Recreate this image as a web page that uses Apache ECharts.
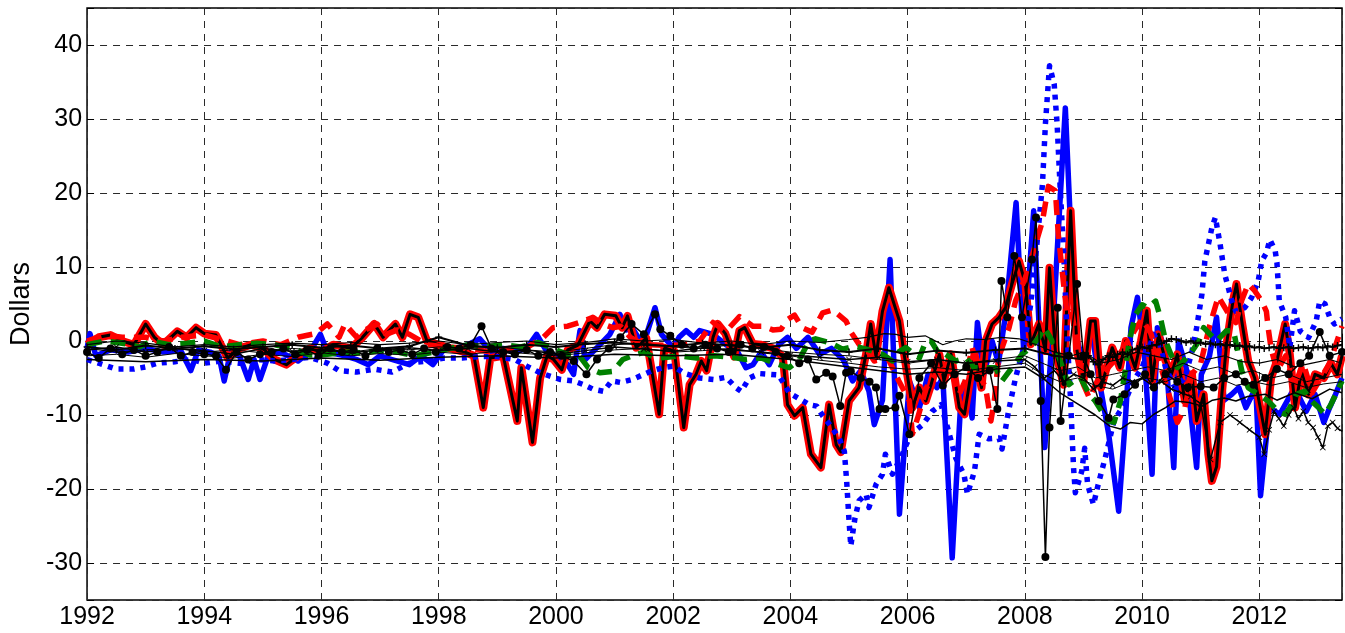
<!DOCTYPE html>
<html>
<head>
<meta charset="utf-8">
<script src="https://cdn.jsdelivr.net/npm/echarts@6/dist/echarts.min.js"></script>
<style>html,body{margin:0;padding:0;background:#fff}#c{width:1345px;height:633px}</style>
</head>
<body>
<div id="c"></div>
<script>
// ---- data: [year, dollars] ----
const xTickYears = [1992,1994,1996,1998,2000,2002,2004,2006,2008,2010,2012];
const yTickValues = [-30,-20,-10,0,10,20,30,40];

const blueSolid = [[1992.0,-1.0],[1992.05,1.0],[1992.15,-2.0],[1992.4,-1.2],[1992.7,-1.5],[1993.0,-1.0],[1993.3,-1.5],[1993.6,-1.3],[1993.77,-4.0],[1993.9,-1.2],[1994.1,-1.5],[1994.25,-2.0],[1994.34,-5.4],[1994.45,-1.5],[1994.6,-2.0],[1994.75,-5.2],[1994.85,-2.5],[1994.95,-5.2],[1995.1,-1.8],[1995.3,-1.5],[1995.6,-2.7],[1995.8,-1.5],[1995.98,0.9],[1996.1,-1.5],[1996.4,-2.0],[1996.6,-2.5],[1996.8,-3.2],[1997.0,-2.0],[1997.2,-2.5],[1997.5,-3.2],[1997.7,-2.0],[1997.9,-3.2],[1998.1,-1.0],[1998.3,-1.0],[1998.5,-0.5],[1998.7,0.3],[1998.9,-1.5],[1999.1,-1.0],[1999.3,-1.5],[1999.5,-1.0],[1999.67,0.9],[1999.85,-1.5],[2000.0,-2.0],[2000.2,-3.2],[2000.3,-4.5],[2000.41,1.4],[2000.5,-2.5],[2000.7,-0.9],[2000.92,0.9],[2001.09,3.6],[2001.2,1.5],[2001.3,1.8],[2001.44,0],[2001.55,1.0],[2001.69,4.5],[2001.8,0.9],[2002.0,-0.9],[2002.1,0.5],[2002.22,1.4],[2002.35,0.5],[2002.45,1.4],[2002.68,0.9],[2002.9,-0.5],[2003.1,-1.5],[2003.24,-3.6],[2003.36,-3.2],[2003.5,-1.5],[2003.64,-3.2],[2003.8,-0.5],[2003.95,0.5],[2004.1,-1.0],[2004.3,0.5],[2004.5,-1.8],[2004.7,-1.0],[2004.9,-2.5],[2005.06,-5.4],[2005.2,-4.0],[2005.34,-6.8],[2005.43,-11.3],[2005.57,-8.0],[2005.7,11.0],[2005.86,-23.4],[2006.03,-5.4],[2006.2,-9.0],[2006.35,-4.5],[2006.5,-6.3],[2006.6,-5.0],[2006.76,-29.3],[2006.9,-9.0],[2007.0,-6.0],[2007.1,-10.4],[2007.19,2.5],[2007.3,-4.5],[2007.44,0],[2007.55,-3.0],[2007.67,3.6],[2007.85,18.7],[2007.98,-1.4],[2008.15,17.6],[2008.34,-14.4],[2008.5,5.0],[2008.69,31.5],[2008.86,1.0],[2009.0,-3.0],[2009.14,1.4],[2009.26,-5.0],[2009.43,-12.6],[2009.6,-23.0],[2009.72,-9.9],[2009.81,1.8],[2009.92,5.9],[2010.03,-0.9],[2010.17,-18.0],[2010.26,1.8],[2010.4,-1.4],[2010.54,-17.1],[2010.62,0],[2010.75,-3.6],[2010.93,-17.1],[2011.01,-4.5],[2011.15,-2.0],[2011.27,3.2],[2011.4,-8.0],[2011.53,-7.2],[2011.65,-6.3],[2011.77,-9.0],[2011.94,-6.3],[2012.02,-20.9],[2012.17,-9.0],[2012.35,-9.9],[2012.6,-6.3],[2012.8,-9.5],[2012.95,-7.2],[2013.1,-11.0],[2013.2,-9.0],[2013.3,-7.2],[2013.41,-5.0]];

const blueDotted = [[1992.0,-2.5],[1992.2,-3.0],[1992.5,-3.8],[1992.8,-3.8],[1993.0,-3.5],[1993.2,-3.0],[1993.5,-2.8],[1993.8,-2.5],[1994.0,-3.0],[1994.3,-2.7],[1994.6,-3.0],[1994.9,-2.5],[1995.2,-2.7],[1995.5,-2.5],[1995.8,-2.2],[1996.1,-3.0],[1996.3,-4.0],[1996.6,-4.2],[1996.9,-3.8],[1997.2,-4.2],[1997.5,-3.0],[1997.8,-2.7],[1998.1,-2.3],[1998.4,-2.3],[1998.7,-2.1],[1999.0,-2.1],[1999.3,-2.5],[1999.5,-3.4],[1999.73,-4.3],[2000.07,-5.2],[2000.3,-5.4],[2000.47,-5.9],[2000.63,-6.5],[2000.81,-6.8],[2000.95,-5.4],[2001.1,-5.6],[2001.3,-5.2],[2001.5,-4.5],[2001.65,-4.0],[2001.83,-3.6],[2002.0,-3.4],[2002.2,-4.4],[2002.45,-5.0],[2002.7,-5.2],[2002.9,-4.9],[2003.07,-6.3],[2003.16,-6.8],[2003.3,-5.0],[2003.47,-4.4],[2003.64,-4.5],[2003.8,-4.6],[2003.98,-7.0],[2004.15,-7.8],[2004.32,-8.6],[2004.45,-8.8],[2004.55,-10.1],[2004.69,-11.5],[2004.83,-13.1],[2004.92,-14.9],[2004.96,-19.0],[2005.0,-24.3],[2005.03,-27.7],[2005.1,-24.0],[2005.17,-21.6],[2005.29,-20.7],[2005.34,-22.5],[2005.46,-19.4],[2005.57,-18.0],[2005.62,-15.3],[2005.74,-18.0],[2005.91,-15.3],[2006.05,-12.6],[2006.26,-11.3],[2006.42,-9.5],[2006.57,-8.6],[2006.68,-11.7],[2006.82,-15.8],[2006.96,-18.0],[2007.02,-20.7],[2007.14,-17.6],[2007.22,-12.6],[2007.38,-13.2],[2007.56,-13.1],[2007.61,-14.6],[2007.72,-9.5],[2007.84,-5.0],[2007.98,-0.9],[2008.1,5.0],[2008.21,13.5],[2008.3,21.2],[2008.35,29.3],[2008.42,37.2],[2008.5,34.7],[2008.55,29.3],[2008.6,21.0],[2008.66,12.2],[2008.72,0.9],[2008.78,-8.1],[2008.83,-17.1],[2008.86,-20.5],[2008.97,-17.6],[2009.02,-14.5],[2009.07,-19.4],[2009.17,-22.1],[2009.25,-19.4],[2009.37,-15.8],[2009.52,-10.8],[2009.69,-8.6],[2009.85,-5.4],[2010.0,-3.6],[2010.2,0.9],[2010.3,-0.5],[2010.4,-3.6],[2010.56,-6.3],[2010.73,-5.0],[2010.85,-1.4],[2010.93,1.8],[2011.02,6.3],[2011.07,10.8],[2011.19,15.3],[2011.25,16.7],[2011.33,13.1],[2011.41,9.0],[2011.53,5.4],[2011.6,4.0],[2011.75,4.5],[2011.87,5.9],[2011.98,8.1],[2012.04,10.8],[2012.12,11.9],[2012.18,13.7],[2012.27,12.2],[2012.3,10.6],[2012.34,5.4],[2012.45,3.2],[2012.52,-0.9],[2012.6,4.1],[2012.7,1.3],[2012.84,0.45],[2012.97,2.7],[2013.03,5.4],[2013.12,5.0],[2013.2,3.2],[2013.28,2.3],[2013.41,3.0]];

const redDashed = [[1992.0,0],[1992.3,0.8],[1992.6,0.5],[1993.0,0.5],[1993.3,0],[1993.6,0.5],[1994.0,0.8],[1994.3,0.2],[1994.6,-0.5],[1995.0,0],[1995.3,-0.5],[1995.6,0.5],[1995.9,1.0],[1996.1,2.3],[1996.3,0.5],[1996.4,2.3],[1996.6,0.5],[1996.75,1.5],[1996.95,2.3],[1997.1,0.9],[1997.3,1.5],[1997.5,0.9],[1997.8,-0.5],[1998.1,-0.8],[1998.5,-1.0],[1998.9,-1.5],[1999.2,-1.0],[1999.5,-0.9],[1999.78,0.45],[1999.95,1.8],[2000.2,2.0],[2000.4,2.5],[2000.63,3.2],[2000.8,2.3],[2000.97,1.8],[2001.1,2.0],[2001.27,0.5],[2001.5,-0.5],[2001.9,-0.6],[2002.2,-0.5],[2002.45,0],[2002.68,2.5],[2002.9,1.3],[2003.13,3.3],[2003.36,2.0],[2003.53,2.0],[2003.7,1.5],[2003.84,1.6],[2003.95,2.9],[2004.07,3.5],[2004.2,1.8],[2004.37,1.2],[2004.55,3.8],[2004.72,4.2],[2004.95,2.7],[2005.04,1.1],[2005.17,-0.45],[2005.32,-1.4],[2005.43,-2.7],[2005.66,-2.3],[2005.85,-5.4],[2006.03,-8.1],[2006.08,-12.6],[2006.17,-10.4],[2006.32,-6.3],[2006.48,-4.5],[2006.65,-3.6],[2006.76,-4.5],[2006.88,-7.2],[2006.98,-5.4],[2007.1,-0.9],[2007.22,-4.5],[2007.33,-6.3],[2007.42,-10.8],[2007.48,-8.0],[2007.55,-2.3],[2007.73,1.8],[2007.84,5.4],[2008.01,8.6],[2008.15,12.2],[2008.3,16.2],[2008.4,20.9],[2008.52,20.3],[2008.57,14.4],[2008.66,7.7],[2008.72,3.6],[2008.8,4.0],[2008.9,-1.4],[2009.0,-5.9],[2009.1,-7.7],[2009.26,-5.0],[2009.42,-3.6],[2009.6,-2.0],[2009.72,-0.5],[2009.88,1.5],[2010.0,3.0],[2010.15,1.0],[2010.3,-3.0],[2010.45,-7.0],[2010.6,-11.0],[2010.73,-9.0],[2010.85,-4.5],[2011.0,-3.0],[2011.15,2.0],[2011.3,6.0],[2011.45,4.0],[2011.6,2.5],[2011.7,5.5],[2011.81,7.7],[2011.92,6.8],[2012.04,5.4],[2012.12,4.0],[2012.15,1.8],[2012.2,-1.0],[2012.3,-4.0],[2012.45,-2.0],[2012.6,-6.0],[2012.75,-3.0],[2012.9,-7.0],[2013.05,-5.0],[2013.2,-3.0],[2013.41,2.0]];

const greenDashed = [[1992.0,-0.5],[1992.3,0],[1992.6,-0.3],[1992.9,-0.8],[1993.1,0],[1993.4,-0.5],[1993.7,-0.3],[1994.0,0],[1994.3,-0.8],[1994.6,-0.5],[1994.9,-0.3],[1995.2,-0.5],[1995.5,-1.0],[1995.8,-1.9],[1996.1,-1.8],[1996.4,-1.5],[1996.7,-1.6],[1997.0,-1.3],[1997.3,-1.5],[1997.6,-2.0],[1997.9,-1.5],[1998.2,-1.0],[1998.5,-0.5],[1998.8,-0.8],[1999.1,-0.5],[1999.4,-0.8],[1999.7,-0.2],[2000.0,-1.2],[2000.2,-1.8],[2000.4,-2.0],[2000.55,-3.6],[2000.75,-4.3],[2000.97,-4.1],[2001.14,-2.5],[2001.3,-2.0],[2001.5,-1.5],[2001.7,-2.3],[2001.9,-2.2],[2002.1,-2.0],[2002.4,-2.3],[2002.7,-2.0],[2003.0,-2.2],[2003.24,-2.5],[2003.5,-2.3],[2003.81,-3.2],[2003.98,-3.6],[2004.15,-2.5],[2004.32,0],[2004.43,0.3],[2004.66,-0.2],[2004.89,-1.1],[2005.1,-0.7],[2005.34,-1.2],[2005.57,-1.8],[2005.74,-2.7],[2005.86,-1.4],[2005.97,-0.9],[2006.2,-2.3],[2006.31,0],[2006.4,0],[2006.54,-1.8],[2006.65,-1.8],[2006.82,-2.7],[2007.0,-2.3],[2007.13,-3.6],[2007.33,-3.6],[2007.5,-3.6],[2007.61,-5.4],[2007.78,-3.6],[2007.95,-1.8],[2008.1,-0.9],[2008.24,0.5],[2008.33,1.8],[2008.43,0.5],[2008.55,-1.4],[2008.66,-4.1],[2008.75,-5.9],[2008.83,-5.4],[2008.95,-5.0],[2009.1,-7.2],[2009.2,-8.1],[2009.31,-9.5],[2009.43,-10.8],[2009.52,-11.0],[2009.63,-8.1],[2009.72,-3.6],[2009.78,0],[2009.89,3.6],[2010.0,4.9],[2010.09,4.5],[2010.23,5.4],[2010.31,3.2],[2010.4,0],[2010.49,-1.8],[2010.6,-3.6],[2010.73,-2.5],[2010.85,-1.4],[2010.97,0],[2011.05,1.8],[2011.16,0.9],[2011.27,0],[2011.44,1.4],[2011.56,1.4],[2011.64,-1.8],[2011.7,-4.0],[2011.81,-6.3],[2011.98,-7.2],[2012.15,-8.1],[2012.32,-9.5],[2012.44,-9.9],[2012.52,-9.0],[2012.63,-7.2],[2012.77,-6.8],[2012.89,-8.1],[2013.01,-9.0],[2013.12,-9.9],[2013.22,-8.6],[2013.33,-6.8],[2013.41,-5.4]];

const redBlack = [[1992.0,-0.5],[1992.2,0.5],[1992.4,0.8],[1992.6,0],[1992.8,-0.5],[1993.0,2.3],[1993.15,0.5],[1993.3,-0.5],[1993.54,1.3],[1993.7,0.5],[1993.86,1.8],[1994.0,1.0],[1994.2,0.8],[1994.4,-2.3],[1994.6,-1.0],[1994.8,-0.5],[1995.0,-1.0],[1995.2,-2.5],[1995.4,-3.2],[1995.6,-2.0],[1995.8,-1.0],[1996.0,-1.5],[1996.2,-0.5],[1996.5,-1.0],[1996.7,0.5],[1996.9,2.3],[1997.05,0.5],[1997.26,2.3],[1997.38,0.5],[1997.51,3.6],[1997.65,3.2],[1997.8,0],[1998.0,-0.5],[1998.2,-1.0],[1998.45,-1.5],[1998.6,-2.0],[1998.76,-9.0],[1998.88,-2.3],[1999.1,-2.0],[1999.34,-10.8],[1999.41,-3.6],[1999.6,-13.7],[1999.73,-5.0],[1999.85,-2.0],[1999.96,-2.5],[2000.1,-3.9],[2000.2,-1.2],[2000.37,-0.6],[2000.58,2.7],[2000.7,1.8],[2000.83,3.6],[2001.02,3.4],[2001.13,1.8],[2001.22,3.4],[2001.37,-0.9],[2001.54,0.4],[2001.76,-9.9],[2001.85,-0.9],[2002.02,-1.4],[2002.18,-11.7],[2002.28,-5.9],[2002.39,-4.5],[2002.48,-2.7],[2002.57,-4.0],[2002.68,0.5],[2002.76,2.3],[2002.89,1.0],[2003.04,-2.1],[2003.13,1.4],[2003.22,1.8],[2003.36,-0.4],[2003.5,-0.5],[2003.7,-1.0],[2003.87,-2.1],[2003.95,-8.6],[2004.07,-10.1],[2004.21,-9.0],[2004.35,-15.3],[2004.52,-17.1],[2004.66,-8.6],[2004.78,-14.0],[2004.86,-15.0],[2005.0,-8.1],[2005.17,-6.3],[2005.29,-1.8],[2005.37,2.3],[2005.46,-2.1],[2005.57,4.0],[2005.68,7.2],[2005.86,2.7],[2005.94,-1.8],[2006.08,-9.0],[2006.2,-6.3],[2006.31,-8.1],[2006.4,-5.9],[2006.54,-1.8],[2006.62,-5.4],[2006.74,-1.8],[2006.88,-9.0],[2006.97,-9.9],[2007.06,-5.4],[2007.14,-1.8],[2007.26,-6.3],[2007.33,0],[2007.44,2.3],[2007.56,3.2],[2007.67,4.5],[2007.78,7.7],[2007.9,10.8],[2008.01,7.7],[2008.1,-0.45],[2008.24,2.3],[2008.35,-1.35],[2008.42,9.9],[2008.52,-1.35],[2008.66,-5.9],[2008.78,17.6],[2008.89,-1.35],[2009.0,-5.4],[2009.12,2.7],[2009.2,2.7],[2009.3,-6.3],[2009.49,-0.9],[2009.62,-3.6],[2009.72,0],[2009.88,-3.6],[2009.98,0],[2010.08,4.1],[2010.17,-5.4],[2010.28,0.9],[2010.4,-2.7],[2010.5,-4.5],[2010.6,-1.8],[2010.73,-8.1],[2010.85,-4.5],[2010.93,-10.8],[2011.05,-7.2],[2011.13,-15.3],[2011.19,-18.9],[2011.27,-17.0],[2011.36,-7.2],[2011.44,-0.45],[2011.55,5.4],[2011.61,7.7],[2011.7,2.7],[2011.81,-2.7],[2011.92,-5.0],[2012.1,-12.6],[2012.2,-5.0],[2012.3,-2.7],[2012.44,2.3],[2012.52,-1.8],[2012.61,-9.0],[2012.72,-4.0],[2012.84,-7.2],[2012.95,-4.5],[2013.1,-5.0],[2013.22,-3.0],[2013.33,-4.5],[2013.41,-2.0]];

const blackDots = [[1992.0,-1.5],[1992.2,-2.3],[1992.4,-1.0],[1992.6,-1.8],[1992.8,-1.2],[1993.0,-2.0],[1993.2,-1.5],[1993.4,-0.8],[1993.6,-2.0],[1993.8,-1.5],[1994.0,-1.8],[1994.2,-2.0],[1994.37,-3.9],[1994.55,-1.5],[1994.75,-2.5],[1994.95,-1.8],[1995.15,-1.5],[1995.35,-1.0],[1995.55,-1.8],[1995.75,-1.2],[1995.95,-2.0],[1996.15,-1.0],[1996.35,-1.5],[1996.55,-1.2],[1996.75,-2.0],[1996.95,-1.0],[1997.15,-1.5],[1997.35,-1.2],[1997.55,-1.8],[1997.75,-1.0],[1997.95,-1.5],[1998.15,-0.8],[1998.35,-1.0],[1998.55,-0.5],[1998.73,2.0],[1998.9,-1.0],[1999.1,-1.5],[1999.3,-1.8],[1999.5,-1.2],[1999.7,-2.0],[1999.9,-1.5],[2000.1,-2.0],[2000.3,-2.7],[2000.52,-4.5],[2000.7,-2.5],[2000.9,-1.0],[2001.1,0.5],[2001.29,2.3],[2001.5,0.9],[2001.69,3.6],[2001.78,1.6],[2001.95,0.7],[2002.15,-0.5],[2002.35,-1.0],[2002.55,-0.5],[2002.75,-1.0],[2002.95,-1.5],[2003.15,-0.5],[2003.35,-1.0],[2003.55,-0.8],[2003.75,-1.5],[2003.95,-2.0],[2004.15,-3.0],[2004.3,-2.5],[2004.44,-5.2],[2004.61,-4.3],[2004.72,-4.8],[2004.85,-8.8],[2004.95,-4.3],[2005.03,-4.1],[2005.2,-5.0],[2005.35,-5.5],[2005.46,-6.3],[2005.52,-9.2],[2005.62,-9.2],[2005.79,-9.0],[2005.86,-7.4],[2006.03,-12.6],[2006.2,-5.0],[2006.4,-3.0],[2006.6,-6.0],[2006.8,-4.5],[2007.0,-3.5],[2007.2,-5.0],[2007.4,-4.0],[2007.53,-9.2],[2007.6,8.1],[2007.7,3.2],[2007.82,11.5],[2007.95,3.2],[2008.12,11.0],[2008.19,16.7],[2008.27,-8.1],[2008.35,-29.2],[2008.42,-11.7],[2008.56,4.5],[2008.61,-10.8],[2008.75,-2.0],[2008.89,7.7],[2009.0,-2.0],[2009.12,-4.5],[2009.26,-8.1],[2009.43,-10.4],[2009.51,-7.9],[2009.7,-7.2],[2009.88,-5.9],[2010.05,-4.5],[2010.2,-6.3],[2010.4,-4.5],[2010.6,-5.5],[2010.78,-6.3],[2011.0,-6.1],[2011.22,-6.3],[2011.4,-5.0],[2011.6,-4.5],[2011.75,-5.5],[2011.9,-5.9],[2012.1,-5.0],[2012.3,-3.8],[2012.5,-4.5],[2012.7,-3.0],[2012.85,-2.0],[2013.03,1.2],[2013.2,-2.0],[2013.41,-1.5]];

const thinA = [[1992,-0.5],[1992.5,0],[1993,-0.3],[1993.5,-0.8],[1994,-0.5],[1994.5,-0.8],[1995,-0.5],[1995.5,-0.3],[1996,-0.5],[1996.5,-0.2],[1997,-0.5],[1997.5,-0.3],[1998,0],[1998.5,-0.5],[1999,-0.2],[1999.5,0],[2000,-0.5],[2000.5,-0.2],[2001,0.3],[2001.5,0],[2002,0.2],[2002.5,-0.3],[2003,0],[2003.5,-0.5],[2004,0],[2004.5,-0.2],[2005,0.2],[2005.3,0.5],[2005.6,1.0],[2005.8,0.9],[2006.0,0.5],[2006.3,0.7],[2006.6,-0.5],[2006.8,0],[2007.0,0.3],[2007.3,0.2],[2007.6,0.5],[2007.9,0.3],[2008.2,-0.5],[2008.5,-1.5],[2008.8,-2.0],[2009.0,-1.5],[2009.3,-3.0],[2009.6,-2.5],[2009.9,-1.5],[2010.2,-2.0],[2010.5,-2.5],[2010.8,-1.5],[2011.1,-2.5],[2011.4,-2.0],[2011.7,-2.8],[2012.0,-3.0],[2012.3,-2.5],[2012.6,-3.5],[2012.9,-3.0],[2013.2,-2.5],[2013.41,-3.0]];

const thinB = [[1992,-1.0],[1992.5,-1.5],[1993,-1.2],[1993.5,-1.0],[1994,-1.5],[1994.5,-1.2],[1995,-1.6],[1995.5,-1.0],[1996,-1.3],[1996.5,-1.5],[1997,-1.0],[1997.5,-1.2],[1998,-0.8],[1998.5,-1.0],[1999,-0.8],[1999.5,-1.2],[2000,-1.5],[2000.5,-1.0],[2001,-0.5],[2001.5,-0.3],[2002,-0.8],[2002.5,-1.0],[2003,-0.5],[2003.5,-1.0],[2004,-1.5],[2004.5,-1.8],[2005,-2.0],[2005.5,-2.5],[2006,-3.0],[2006.5,-2.5],[2007,-3.0],[2007.5,-2.5],[2008,-2.0],[2008.3,-3.0],[2008.6,-4.0],[2008.9,-3.5],[2009.2,-5.0],[2009.5,-4.5],[2009.8,-4.0],[2010.1,-3.5],[2010.4,-4.0],[2010.7,-3.0],[2011.0,-4.0],[2011.3,-3.5],[2011.6,-4.5],[2011.9,-4.0],[2012.2,-5.0],[2012.5,-4.5],[2012.8,-5.5],[2013.1,-5.0],[2013.41,-4.5]];

const thinC = [[1992,-2.0],[1992.5,-1.8],[1993,-2.2],[1993.5,-1.7],[1994,-2.0],[1994.5,-2.3],[1995,-1.8],[1995.5,-2.1],[1996,-1.6],[1996.5,-2.0],[1997,-1.7],[1997.5,-1.9],[1998,-1.5],[1998.5,-1.8],[1999,-1.4],[1999.5,-1.7],[2000,-2.0],[2000.5,-1.6],[2001,-1.2],[2001.5,-1.0],[2002,-1.5],[2002.5,-1.3],[2003,-1.0],[2003.5,-1.6],[2004,-2.0],[2004.5,-2.6],[2005,-3.0],[2005.5,-3.5],[2006,-3.8],[2006.5,-3.6],[2007,-4.0],[2007.5,-3.5],[2008,-3.0],[2008.3,-4.5],[2008.6,-5.5],[2008.9,-5.0],[2009.2,-6.0],[2009.5,-6.5],[2009.8,-5.5],[2010.1,-5.0],[2010.4,-5.5],[2010.7,-4.5],[2011.0,-5.5],[2011.3,-5.0],[2011.6,-6.0],[2011.9,-5.5],[2012.2,-6.0],[2012.5,-5.5],[2012.8,-6.3],[2013.1,-5.8],[2013.41,-5.5]];

const thinD = [[1992,-2.5],[1993,-2.8],[1994,-2.5],[1995,-2.7],[1996,-2.3],[1997,-2.6],[1998,-2.2],[1999,-2.0],[2000,-2.3],[2001,-1.8],[2002,-2.0],[2003,-1.8],[2004,-2.5],[2005,-3.5],[2005.5,-4.0],[2006,-4.5],[2006.5,-4.2],[2007,-4.5],[2007.5,-3.8],[2008,-3.5],[2008.3,-5.0],[2008.6,-7.0],[2008.9,-8.5],[2009.2,-10.0],[2009.45,-11.5],[2009.63,-11.9],[2009.8,-11.0],[2010.0,-11.2],[2010.2,-9.9],[2010.4,-9.0],[2010.57,-8.1],[2010.8,-8.3],[2011.03,-8.8],[2011.2,-8.0],[2011.4,-7.7],[2011.6,-8.1],[2011.8,-7.5],[2012.1,-7.2],[2012.3,-8.0],[2012.6,-7.0],[2012.9,-7.8],[2013.2,-6.5],[2013.41,-7.0]];

const crossLine = [[1992,-1.2],[1992.5,-0.8],[1993,-1.5],[1993.5,-1.0],[1994,-1.3],[1994.5,-1.8],[1995,-1.0],[1995.5,-1.4],[1996,-1.1],[1996.5,-1.6],[1997,-1.2],[1997.5,-0.9],[1998,-1.3],[1998.5,-1.0],[1999,-1.5],[1999.5,-1.2],[2000,-1.8],[2000.5,-1.3],[2001,-0.8],[2001.5,-1.1],[2002,-1.4],[2002.5,-0.9],[2003,-1.2],[2003.5,-1.5],[2004,-1.9],[2004.5,-2.2],[2005,-2.5],[2005.5,-2.2],[2006,-2.8],[2006.5,-2.5],[2007,-3.0],[2007.5,-2.7],[2008.0,-2.5],[2008.167,-3.5],[2008.333,-5.0],[2008.5,-4.0],[2008.667,-5.5],[2008.833,-4.5],[2009.0,-5.0],[2009.167,-6.5],[2009.333,-5.5],[2009.5,-6.0],[2009.667,-5.0],[2009.833,-5.5],[2010.0,-5.0],[2010.167,-6.0],[2010.333,-5.5],[2010.5,-6.5],[2010.667,-7.0],[2010.833,-7.5],[2011.0,-8.5],[2011.167,-16.0],[2011.333,-11.0],[2011.5,-10.0],[2011.667,-11.0],[2011.833,-12.0],[2012.0,-13.0],[2012.083,-15.3],[2012.167,-12.0],[2012.25,-9.5],[2012.333,-10.5],[2012.417,-11.5],[2012.5,-10.0],[2012.583,-9.0],[2012.667,-10.5],[2012.75,-9.5],[2012.833,-11.0],[2012.917,-11.7],[2013.0,-13.0],[2013.083,-14.4],[2013.167,-11.5],[2013.25,-11.0],[2013.333,-11.8],[2013.417,-12.2]];

const plusLine = [[1992,-0.8],[1992.5,-1.2],[1993,-0.6],[1993.5,-1.0],[1994,-0.7],[1994.5,-1.1],[1995,-0.8],[1995.5,-0.5],[1996,-0.9],[1996.5,-0.6],[1997,-1.0],[1997.5,-0.7],[1998,0.5],[1998.5,-0.6],[1999,-0.9],[1999.5,-0.5],[2000,-0.8],[2000.5,-0.4],[2001,-0.2],[2001.5,-0.5],[2002,-0.7],[2002.5,-0.3],[2003,-0.6],[2003.5,-0.9],[2004,-0.5],[2004.5,-1.2],[2005,-1.5],[2005.5,-1.0],[2006,-1.8],[2006.5,-1.3],[2007,-1.6],[2007.5,-1.2],[2008.0,-1.0],[2008.5,-2.0],[2009.0,-2.5],[2009.083,-2.0],[2009.167,-2.8],[2009.25,-3.2],[2009.333,-2.5],[2009.417,-2.0],[2009.5,-2.2],[2009.583,-1.8],[2009.667,-1.5],[2009.75,-1.8],[2009.833,-1.2],[2009.917,-1.0],[2010.0,-0.8],[2010.083,-1.0],[2010.167,-0.6],[2010.25,-0.5],[2010.333,-0.3],[2010.417,0.0],[2010.5,0.3],[2010.583,0.2],[2010.667,0.0],[2010.75,-0.2],[2010.833,0.0],[2010.917,-0.3],[2011.0,-0.2],[2011.083,-0.4],[2011.167,-0.3],[2011.25,-0.5],[2011.333,-0.4],[2011.417,-0.6],[2011.5,-0.5],[2011.583,-0.7],[2011.667,-0.6],[2011.75,-0.8],[2011.833,-0.7],[2011.917,-0.9],[2012.0,-0.8],[2012.083,-1.0],[2012.167,-0.9],[2012.25,-0.8],[2012.333,-1.0],[2012.417,-0.9],[2012.5,-0.8],[2012.583,-1.0],[2012.667,-0.9],[2012.75,-0.8],[2012.833,-1.0],[2012.917,-0.9],[2013.0,-0.8],[2013.083,-0.9],[2013.167,-0.7],[2013.25,-0.8],[2013.333,-0.6],[2013.417,-0.5]];

// ---- chart ----
const FONT = "'Liberation Sans', Arial, Helvetica, sans-serif";
const chart = echarts.init(document.getElementById('c'), null, {renderer: 'canvas'});
function ln(data, color, width, type, extra) {
  return Object.assign({
    type: 'line', data: data, symbol: 'none', smooth: false, silent: true,
    lineStyle: {color: color, width: width, type: type || 'solid', cap: 'butt', join: 'round'},
    itemStyle: {color: color}
  }, extra || {});
}
const PLUS = 'path://M4,0h2v10h-2zM0,4h10v2h-10z';
const CROSS = 'path://M1,0L5,4L9,0L10,1L6,5L10,9L9,10L5,6L1,10L0,9L4,5L0,1Z';
const tickStyle = {show: true, inside: true, length: 7, lineStyle: {color: '#000', width: 1}};
const gridDash = {show: true, lineStyle: {color: '#2a2a2a', type: [7, 6], width: 1}};

chart.setOption({
  animation: false,
  backgroundColor: '#fff',
  grid: {left: 86, right: 1, top: 8, bottom: 33, show: true, borderColor: '#000', borderWidth: 1.5, backgroundColor: 'transparent'},
  xAxis: [{
    type: 'value', min: 1992, max: 2013.41, interval: 2,
    axisLine: {show: false},
    axisTick: tickStyle,
    axisLabel: {color: '#000', fontSize: 25, fontFamily: FONT, margin: 5,
      formatter: v => (xTickYears.indexOf(Math.round(v)) >= 0 && Math.abs(v - Math.round(v)) < 1e-6) ? String(Math.round(v)) : ''},
    splitLine: gridDash
  }, {
    type: 'value', position: 'top', min: 1992, max: 2013.41, interval: 2,
    axisLine: {show: false}, axisTick: tickStyle, axisLabel: {show: false}, splitLine: {show: false}
  }],
  yAxis: [{
    type: 'value', min: -35, max: 45, splitNumber: 8, minInterval: 10, maxInterval: 10,
    name: 'Dollars', nameLocation: 'middle', nameGap: 47, nameRotate: 90,
    nameTextStyle: {color: '#000', fontSize: 27, fontFamily: FONT},
    axisLine: {show: false},
    axisTick: tickStyle,
    axisLabel: {color: '#000', fontSize: 25, fontFamily: FONT, margin: 5,
      formatter: v => yTickValues.indexOf(v) >= 0 ? String(v) : ''},
    splitLine: gridDash
  }, {
    type: 'value', position: 'right', min: -35, max: 45, splitNumber: 8, minInterval: 10, maxInterval: 10,
    axisLine: {show: false}, axisTick: tickStyle, axisLabel: {show: false}, splitLine: {show: false}
  }],
  series: [
    ln(blueSolid, '#0000ff', 5.5),
    ln(redBlack, '#ff0000', 8),
    ln(redBlack, '#000000', 3),
    ln(blueDotted, '#0000ff', 5.5, [5, 6]),
    ln(redDashed, '#ff0000', 5.5, [15, 9]),
    ln(greenDashed, '#008000', 5.5, [15, 9]),
    ln(thinA, '#000', 1.2),
    ln(thinB, '#000', 1.0),
    ln(thinC, '#000', 1.0),
    ln(thinD, '#000', 1.5),
    ln(crossLine, '#000', 1.5, 'solid', {symbol: CROSS, symbolSize: 6, showSymbol: true}),
    ln(plusLine, '#000', 2, 'solid', {symbol: PLUS, symbolSize: 7, showSymbol: true}),
    ln(blackDots, '#000', 1.5, 'solid', {symbol: 'circle', symbolSize: 8, showSymbol: true})
  ]
});
</script>
</body>
</html>
